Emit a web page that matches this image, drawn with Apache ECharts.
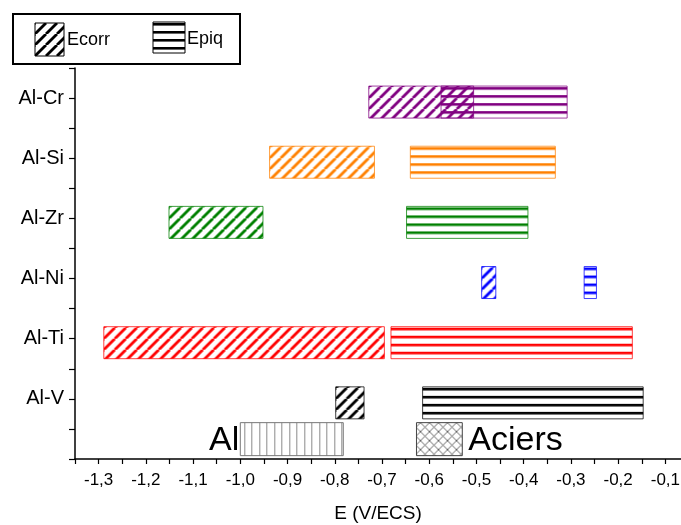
<!DOCTYPE html>
<html><head><meta charset="utf-8">
<script src="https://cdn.jsdelivr.net/npm/echarts@6/dist/echarts.min.js"></script>
<style>html,body{margin:0;padding:0;background:#fff}#c{width:681px;height:525px}</style>
</head><body><div id="c"></div>
<script>
// ---- data (y rows 1..6 from bottom to top) ----
const alloys    = ['Al-V', 'Al-Ti', 'Al-Ni', 'Al-Zr', 'Al-Si', 'Al-Cr'];
const ecorrLow  = [-0.798, -1.289, -0.489, -1.151, -0.938, -0.728];
const ecorrHigh = [-0.738, -0.695, -0.459, -0.952, -0.716, -0.506];
const epiqLow   = [-0.614, -0.681, -0.272, -0.648, -0.640, -0.575];
const epiqHigh  = [-0.147, -0.170, -0.246, -0.391, -0.333, -0.308];
const refNames  = ['Al', 'Aciers'];
const refLow    = [-1.000, -0.627];
const refHigh   = [-0.782, -0.530];
const refRow    = 0.33;
const xTickLabels = ['-1,3','-1,2','-1,1','-1,0','-0,9','-0,8','-0,7','-0,6','-0,5','-0,4','-0,3','-0,2','-0,1'];

// ---- styles ----
const rowColors = ['#000000', '#ff0000', '#0000ff', '#008000', '#ff8000', '#800080'];
const FONT = "'Liberation Sans', Arial, sans-serif";
const BAR_H = 32, BAR_OFF = 12;

function tile(w, h, draw) {
  const c = document.createElement('canvas'); c.width = w; c.height = h;
  const ctx = c.getContext('2d'); draw(ctx, w, h); return c;
}
function diagTile(color) {
  return tile(11, 11, (ctx, p) => {
    ctx.strokeStyle = color; ctx.lineWidth = 2.8;
    for (const o of [-p, 0, p]) { ctx.beginPath(); ctx.moveTo(o, p); ctx.lineTo(o + p, 0); ctx.stroke(); }
  });
}
function horizTile(color) {
  return tile(8, 8, (ctx) => {
    ctx.fillStyle = color; ctx.fillRect(0, 0, 8, 2);
    ctx.globalAlpha = 0.6; ctx.fillRect(0, 2, 8, 1);
  });
}
const vertTile = tile(15, 8, (ctx) => {
  ctx.fillStyle = '#8a8a8a'; ctx.fillRect(0, 0, 1, 8); ctx.fillRect(7, 0, 1, 8);
});
const crossTile = tile(9, 9, (ctx, p) => {
  ctx.strokeStyle = '#555'; ctx.lineWidth = 0.9;
  for (const o of [-p, 0, p]) {
    ctx.beginPath(); ctx.moveTo(o, p); ctx.lineTo(o + p, 0); ctx.stroke();
    ctx.beginPath(); ctx.moveTo(o, 0); ctx.lineTo(o + p, p); ctx.stroke();
  }
});
const diagTiles = rowColors.map(diagTile);
const horizTiles = rowColors.map(horizTile);

function barRender(tiles) {
  return function (params, api) {
    const lo = api.value(0), hi = api.value(1), y = api.value(2), idx = api.value(3);
    const p1 = api.coord([lo, y]), p2 = api.coord([hi, y]);
    const x = p1[0], w = p2[0] - p1[0], top = p1[1] - BAR_OFF;
    return {
      type: 'rect',
      shape: { x: x, y: top, width: w, height: BAR_H },
      style: {
        fill: { image: tiles[idx], repeat: 'repeat', x: x, y: top + 1 },
        stroke: rowColors[idx], lineWidth: 1, strokeOpacity: 0.75
      }
    };
  };
}

const ecorrData = alloys.map((a, i) => [ecorrLow[i], ecorrHigh[i], i + 1, i]);
const epiqData  = alloys.map((a, i) => [epiqLow[i], epiqHigh[i], i + 1, i]);
const refData   = refNames.map((n, i) => [refLow[i], refHigh[i], refRow, i]);
const refTiles  = [vertTile, crossTile];
const refStroke = ['#777', '#444'];

const chart = echarts.init(document.getElementById('c'), null, { renderer: 'canvas' });
chart.setOption({
  animation: false,
  backgroundColor: '#fff',
  grid: { left: 75, top: 68, width: 614, height: 391, outerBoundsMode: 'none', containLabel: false },
  xAxis: {
    type: 'value', min: -1.35, max: -0.05, interval: 0.05,
    name: 'E (V/ECS)', nameLocation: 'middle', nameGap: 45,
    nameTextStyle: { fontFamily: FONT, fontSize: 19, color: '#000', padding: [0, 8, 0, 0] },
    axisLine: { show: true, onZero: false, lineStyle: { color: '#000', width: 1.5 } },
    axisTick: { show: true, length: 5, lineStyle: { color: '#000', width: 1.2 } },
    axisLabel: {
      fontFamily: FONT, fontSize: 17, color: '#000', margin: 13, showMaxLabel: true, showMinLabel: true,
      formatter: (v) => {
        const k = Math.round(v * 100);
        if (k % 10 !== 0) return '';
        const i = Math.round((v + 1.3) / 0.1);
        return xTickLabels[i] !== undefined ? xTickLabels[i] : '';
      }
    },
    splitLine: { show: false }
  },
  yAxis: {
    type: 'value', min: 0, max: 6.5, interval: 0.5,
    axisLine: { show: true, onZero: false, lineStyle: { color: '#000', width: 1.5 } },
    axisTick: { show: true, length: 6, lineStyle: { color: '#000', width: 1.2 } },
    axisLabel: {
      fontFamily: FONT, fontSize: 20, color: '#000', margin: 11,
      formatter: (v) => {
        const r = Math.round(v);
        if (Math.abs(v - r) > 1e-6 || r < 1 || r > alloys.length) return '';
        return alloys[r - 1];
      }
    },
    splitLine: { show: false }
  },
  series: [
    { type: 'custom', name: 'Ecorr', renderItem: barRender(diagTiles), data: ecorrData, encode: { x: [0, 1], y: 2 }, clip: false, z: 3 },
    { type: 'custom', name: 'Epiq', renderItem: barRender(horizTiles), data: epiqData, encode: { x: [0, 1], y: 2 }, clip: false, z: 2 },
    {
      type: 'custom', name: 'Ref', data: refData, encode: { x: [0, 1], y: 2 }, clip: false, z: 2,
      renderItem: (params, api) => {
        const lo = api.value(0), hi = api.value(1), y = api.value(2), idx = api.value(3);
        const p1 = api.coord([lo, y]), p2 = api.coord([hi, y]);
        const x = p1[0], w = p2[0] - p1[0], h = 33, top = p1[1] - 16.5;
        const labelLeft = idx === 0;
        return {
          type: 'group',
          children: [
            { type: 'rect', shape: { x: x, y: top, width: w, height: h },
              style: { fill: { image: refTiles[idx], repeat: 'repeat', x: x + 4, y: top }, stroke: refStroke[idx], lineWidth: 1 } },
            { type: 'text', x: labelLeft ? x - 1 : p2[0] + 6, y: top + h / 2 + 1,
              style: { text: refNames[idx], fill: '#000', font: '34px ' + FONT,
                       align: labelLeft ? 'right' : 'left', verticalAlign: 'middle' } }
          ]
        };
      }
    }
  ],
  graphic: [
    { type: 'rect', shape: { x: 13, y: 14, width: 227, height: 50 }, style: { fill: '#fff', stroke: '#000', lineWidth: 2 }, z: 10 },
    { type: 'rect', shape: { x: 35, y: 23, width: 29, height: 33 },
      style: { fill: { image: diagTile('#000'), repeat: 'repeat', x: 35, y: 23 }, stroke: '#000', lineWidth: 1 }, z: 11 },
    { type: 'text', x: 67, y: 40, style: { text: 'Ecorr', fill: '#000', font: '18px ' + FONT, verticalAlign: 'middle' }, z: 11 },
    { type: 'rect', shape: { x: 153, y: 22, width: 32, height: 31 },
      style: { fill: { image: horizTile('#000'), repeat: 'repeat', x: 153, y: 23 }, stroke: '#000', lineWidth: 1 }, z: 11 },
    { type: 'text', x: 187, y: 39, style: { text: 'Epiq', fill: '#000', font: '18px ' + FONT, verticalAlign: 'middle' }, z: 11 }
  ]
});
</script>
</body></html>
